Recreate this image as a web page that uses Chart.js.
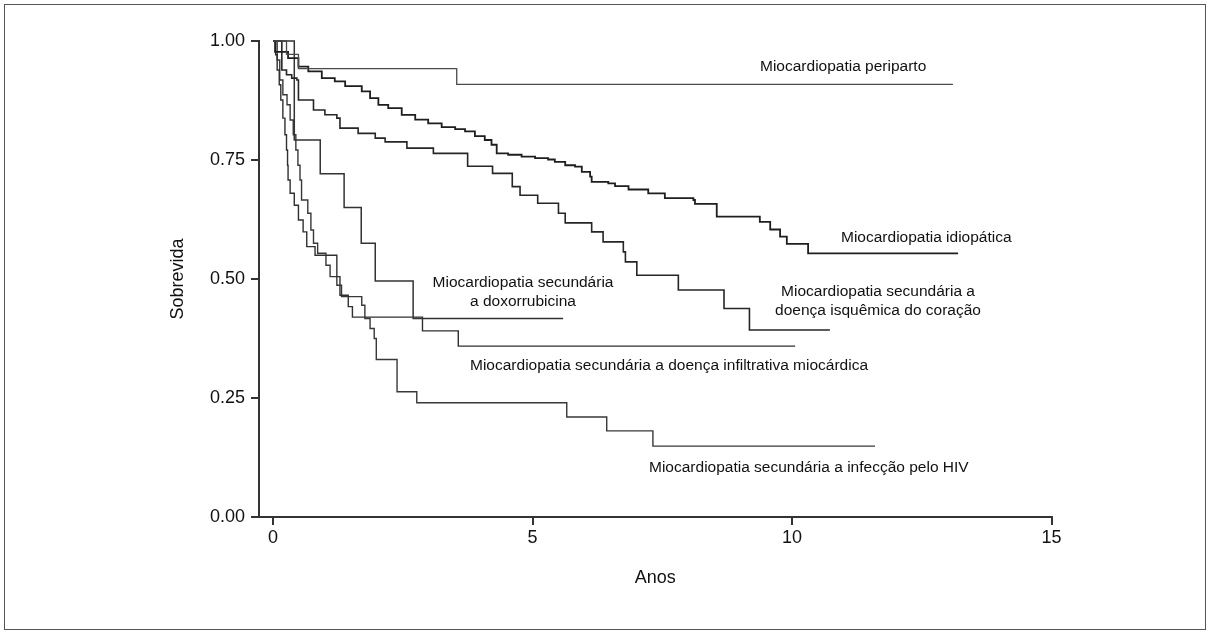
<!DOCTYPE html>
<html>
<head>
<meta charset="utf-8">
<script src="https://cdn.jsdelivr.net/npm/chart.js@4"></script>
<style>
  html, body { margin: 0; padding: 0; background: #fff; }
  #wrap { position: relative; width: 1210px; height: 634px; }
  #frame { position: absolute; left: 4px; top: 4px; width: 1200px; height: 624px; border: 1px solid #555; pointer-events: none; }
  canvas { position: absolute; left: 0; top: 0; }
</style>
</head>
<body>
<div id="wrap">
  <canvas id="c" width="1210" height="634"></canvas>
  <div id="frame"></div>
</div>
<script>
// ---- Data (years, survival) ----
const xTickValues = [0, 5, 10, 15];
const yTickValues = [0, 0.25, 0.5, 0.75, 1];
const xAxisTitle = 'Anos';
const yAxisTitle = 'Sobrevida';

const seriesNames = [
  'Miocardiopatia periparto',
  'Miocardiopatia idiopática',
  'Miocardiopatia secundária a doença isquêmica do coração',
  'Miocardiopatia secundária a doxorrubicina',
  'Miocardiopatia secundária a doença infiltrativa miocárdica',
  'Miocardiopatia secundária a infecção pelo HIV'
];

const peripartoT = [0, 0.26, 0.49, 3.54, 13.1];
const peripartoS = [1, 0.972, 0.942, 0.909, 0.909];

const idiopaticaT = [0,0.04,0.29,0.49,0.68,0.94,1.19,1.39,1.71,1.87,2.03,2.22,2.48,2.74,2.99,3.25,3.51,3.70,3.89,4.08,4.21,4.31,4.53,4.79,5.05,5.30,5.43,5.63,5.82,5.95,6.11,6.14,6.46,6.59,6.85,7.23,7.55,8.10,8.13,8.55,9.38,9.58,9.77,9.90,10.31,13.2];
const idiopaticaS = [1,0.977,0.964,0.946,0.936,0.922,0.915,0.905,0.894,0.880,0.866,0.859,0.845,0.835,0.827,0.819,0.815,0.810,0.800,0.792,0.782,0.764,0.761,0.757,0.754,0.751,0.746,0.739,0.736,0.725,0.715,0.704,0.701,0.695,0.688,0.680,0.670,0.666,0.658,0.631,0.620,0.604,0.589,0.574,0.554,0.554];

const isquemicaT = [0,0.17,0.26,0.36,0.46,0.49,0.78,1.0,1.23,1.29,1.64,1.97,2.16,2.58,3.09,3.75,4.23,4.61,4.76,5.10,5.50,5.63,6.14,6.36,6.75,6.79,7.01,7.81,8.69,9.18,10.73];
const isquemicaS = [1,0.939,0.929,0.922,0.918,0.876,0.855,0.845,0.838,0.817,0.806,0.796,0.788,0.775,0.764,0.737,0.722,0.694,0.676,0.659,0.638,0.618,0.599,0.578,0.557,0.536,0.508,0.477,0.438,0.393,0.393];

const doxoT = [0, 0.41, 0.91, 1.37, 1.70, 1.97, 2.70, 5.59];
const doxoS = [1, 0.792, 0.721, 0.650, 0.575, 0.496, 0.417, 0.417];

const infiltT = [0,0.05,0.08,0.12,0.15,0.19,0.23,0.26,0.28,0.29,0.33,0.41,0.49,0.58,0.65,0.81,1.23,1.29,1.45,1.53,2.88,3.57,10.06];
const infiltS = [1,0.971,0.939,0.908,0.876,0.838,0.803,0.771,0.739,0.708,0.680,0.655,0.624,0.599,0.568,0.550,0.505,0.466,0.442,0.420,0.391,0.359,0.359];

const hivT = [0,0.08,0.13,0.19,0.27,0.33,0.39,0.44,0.48,0.52,0.55,0.67,0.73,0.78,0.86,1.02,1.10,1.23,1.32,1.71,1.77,1.87,1.95,1.99,2.39,2.77,5.66,6.43,7.32,11.6];
const hivS = [1,0.960,0.918,0.887,0.866,0.834,0.803,0.771,0.739,0.708,0.666,0.638,0.603,0.575,0.554,0.529,0.505,0.487,0.463,0.445,0.417,0.396,0.375,0.331,0.263,0.240,0.210,0.181,0.149,0.149];

// ---- Build ----
const FONT = '"Liberation Sans", Arial, Helvetica, sans-serif';
function pts(t, s) { return t.map((v, i) => ({ x: v, y: s[i] })); }

const seriesData = [
  pts(peripartoT, peripartoS),
  pts(idiopaticaT, idiopaticaS),
  pts(isquemicaT, isquemicaS),
  pts(doxoT, doxoS),
  pts(infiltT, infiltS),
  pts(hivT, hivS)
];
const seriesColor = ['#4a4a4a', '#1e1e1e', '#262626', '#333333', '#303030', '#383838'];
const seriesWidth = [1.3, 1.8, 1.6, 1.5, 1.4, 1.4];

const datasets = seriesData.map((d, i) => ({
  label: seriesNames[i],
  data: d,
  stepped: 'before',
  borderColor: seriesColor[i],
  borderWidth: seriesWidth[i],
  pointRadius: 0,
  fill: false,
  clip: false,
  tension: 0
}));

// Text annotations drawn next to curves
const annotations = [
  { lines: ['Miocardiopatia periparto'], x: 760, y: 67, align: 'left' },
  { lines: ['Miocardiopatia idiopática'], x: 841, y: 238, align: 'left' },
  { lines: ['Miocardiopatia secundária a', 'doença isquêmica do coração'], x: 878, y: 292, align: 'center' },
  { lines: ['Miocardiopatia secundária', 'a doxorrubicina'], x: 523, y: 283, align: 'center' },
  { lines: ['Miocardiopatia secundária a doença infiltrativa miocárdica'], x: 470, y: 366, align: 'left' },
  { lines: ['Miocardiopatia secundária a infecção pelo HIV'], x: 649, y: 468, align: 'left' }
];

const labelPlugin = {
  id: 'curveLabels',
  afterDatasetsDraw(chart) {
    const ctx = chart.ctx;
    ctx.save();
    ctx.fillStyle = '#111';
    ctx.font = '15.5px ' + FONT;
    ctx.textBaseline = 'middle';
    annotations.forEach(a => {
      ctx.textAlign = a.align;
      a.lines.forEach((ln, k) => ctx.fillText(ln, a.x, a.y + k * 18.5));
    });
    ctx.restore();
  }
};

new Chart(document.getElementById('c'), {
  type: 'line',
  data: { datasets },
  plugins: [labelPlugin],
  options: {
    responsive: false,
    animation: false,
    events: [],
    layout: { padding: { left: 0, top: 41, right: 158.5, bottom: 0 } },
    plugins: { legend: { display: false }, tooltip: { enabled: false } },
    scales: {
      x: {
        type: 'linear',
        min: -0.27,
        max: 15,
        afterFit(s) { s.height = 117; },
        afterBuildTicks(s) { s.ticks = xTickValues.map(v => ({ value: v })); },
        grid: { display: true, drawOnChartArea: false, drawTicks: true, tickLength: 8, color: '#333', lineWidth: 2 },
        border: { display: true, color: '#333', width: 2 },
        ticks: { color: '#111', font: { family: FONT, size: 18 }, padding: 2, maxRotation: 0 },
        title: { display: true, text: xAxisTitle, color: '#111', font: { family: FONT, size: 18 }, padding: { top: 0, bottom: 45 } }
      },
      y: {
        type: 'linear',
        min: 0,
        max: 1,
        afterFit(s) { s.width = 259; },
        afterBuildTicks(s) { s.ticks = yTickValues.map(v => ({ value: v })); },
        grid: { display: true, drawOnChartArea: false, drawTicks: true, tickLength: 8, color: '#333', lineWidth: 2 },
        border: { display: true, color: '#333', width: 2 },
        ticks: { color: '#111', font: { family: FONT, size: 18 }, padding: 6, callback: v => Number(v).toFixed(2) },
        title: { display: true, text: yAxisTitle, color: '#111', font: { family: FONT, size: 18 }, padding: { top: 167, bottom: 0 } }
      }
    }
  }
});
</script>
</body>
</html>
